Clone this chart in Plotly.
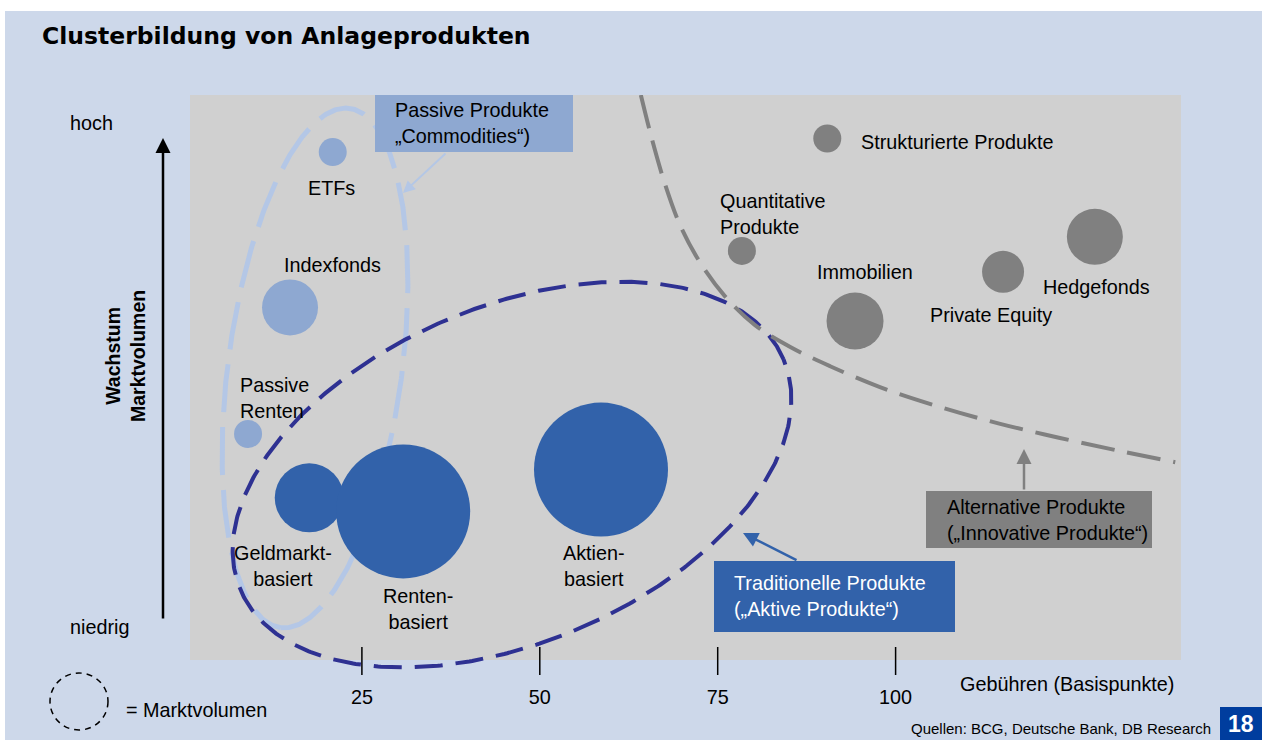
import numpy as np
import plotly.graph_objects as go

# ---------------- data ----------------
passive_names = ["ETFs", "Indexfonds", "Passive Renten"]
passive_labels = ["ETFs", "Indexfonds", "Passive<br>Renten"]
passive_fees = [20.9, 14.9, 9.0]
passive_growth = [89.9, 62.4, 40.0]
passive_volume = [28, 56, 28]

traditional_names = ["Geldmarkt-basiert", "Renten-basiert", "Aktien-basiert"]
traditional_labels = ["Geldmarkt-<br>basiert", "Renten-<br>basiert", "Aktien-<br>basiert"]
traditional_fees = [17.6, 30.8, 58.6]
traditional_growth = [28.7, 26.3, 33.7]
traditional_volume = [69, 134, 134]

alternative_names = ["Strukturierte Produkte", "Quantitative Produkte", "Immobilien",
                     "Private Equity", "Hedgefonds"]
alternative_labels = ["Strukturierte Produkte", "Quantitative<br>Produkte", "Immobilien",
                      "Private Equity", "Hedgefonds"]
alternative_fees = [90.4, 78.4, 94.3, 115.1, 128.0]
alternative_growth = [92.3, 72.4, 60.0, 68.7, 74.9]
alternative_volume = [28, 28, 57, 42, 56]

fee_ticks = [25, 50, 75, 100]
fee_tick_labels = ["25", "50", "75", "100"]

# hand-drawn border of the "alternative products" zone
border_fees = [64.2, 65.8, 67.6, 69.7, 72.5, 76.0, 80.2, 85.2, 90.8, 97.8,
               106.2, 114.7, 123.1, 131.5, 139.3]
border_growth = [100.0, 92.0, 84.2, 77.0, 70.4, 64.4, 59.3, 55.4, 52.0, 48.3,
                 44.8, 41.8, 39.3, 37.0, 35.0]

# ---------------- layout geometry & styles ----------------
W, H = 1262, 740
ML, MR, MT, MB = 190, 81, 95, 57
X_RANGE = [0.843, 140.107]
Y_RANGE = [-4.071, 100.0]

FONT = "Liberation Sans, Arial, Helvetica, sans-serif"
BG = "#cdd8ea"
PLOT_GRAY = "#d0d0d0"
PASSIVE = "#8ea8d1"
PASSIVE_LINE = "#b4c7e6"
TRAD = "#3262aa"
TRAD_LINE = "#2e3192"
ALT = "#808080"
FS = 19.8

PW, PH = W - ML - MR, H - MT - MB
SX = PW / (X_RANGE[1] - X_RANGE[0])
SY = PH / (Y_RANGE[1] - Y_RANGE[0])


def dx(px):
    return X_RANGE[0] + (np.asarray(px, dtype=float) - ML) / SX


def dy(py):
    return Y_RANGE[1] - (np.asarray(py, dtype=float) - MT) / SY


def xp(px):
    return (px - ML) / PW


def yp(py):
    return (H - MB - py) / PH


def ellipse(cx, cy, a, b, ux, uy, n=600):
    t = np.linspace(0, 2 * np.pi, n)
    vx, vy = uy, -ux
    px = cx + a * np.cos(t) * ux + b * np.sin(t) * vx
    py = cy + a * np.cos(t) * uy + b * np.sin(t) * vy
    return dx(px), dy(py)


fig = go.Figure()

# cluster outlines
ex, ey = ellipse(315, 368, 262, 87, -0.132, 0.991)
fig.add_trace(go.Scatter(x=ex, y=ey, mode="lines", hoverinfo="skip",
                         line=dict(color=PASSIVE_LINE, width=5, dash="48px,15px")))
ex, ey = ellipse(512, 474.6, 295, 168, 0.9205, -0.3907)
fig.add_trace(go.Scatter(x=ex, y=ey, mode="lines", hoverinfo="skip",
                         line=dict(color=TRAD_LINE, width=4, dash="28px,13px")))
fig.add_trace(go.Scatter(x=border_fees, y=border_growth, mode="lines", hoverinfo="skip",
                         line=dict(color=ALT, width=4, dash="34px,13px", shape="spline", smoothing=1)))

# bubbles
for names, fees, growth, vol, col in [
    (passive_names, passive_fees, passive_growth, passive_volume, PASSIVE),
    (traditional_names, traditional_fees, traditional_growth, traditional_volume, TRAD),
    (alternative_names, alternative_fees, alternative_growth, alternative_volume, ALT),
]:
    fig.add_trace(go.Scatter(x=fees, y=growth, mode="markers", text=names,
                             marker=dict(size=vol, color=col, opacity=1, line=dict(width=0)),
                             hoverinfo="text"))

# tick marks crossing the bottom edge of the gray area
tx, ty = [], []
for v in fee_ticks:
    tx += [v, v, None]
    ty += [float(dy(647)), float(dy(675)), None]
fig.add_trace(go.Scatter(x=tx, y=ty, mode="lines", hoverinfo="skip",
                         line=dict(color="black", width=1.5)))

annotations = []

# bubble labels (offsets in px)
label_offsets = {
    "ETFs": ("center", -1, -36),
    "Indexfonds": ("center", 42, 42),
    "Passive Renten": ("left", -10, 36.5),
    "Geldmarkt-basiert": ("center", -26.5, -68),
    "Renten-basiert": ("center", 15, -98),
    "Aktien-basiert": ("center", -7, -96.5),
    "Strukturierte Produkte": ("left", 32, -3),
    "Quantitative Produkte": ("left", -24, 36.5),
    "Immobilien": ("center", 10, 49),
    "Private Equity": ("center", -12, -43),
    "Hedgefonds": ("center", 2, -50.5),
}
for names, labels, fees, growth in [
    (passive_names, passive_labels, passive_fees, passive_growth),
    (traditional_names, traditional_labels, traditional_fees, traditional_growth),
    (alternative_names, alternative_labels, alternative_fees, alternative_growth),
]:
    for n, lab, xv, yv in zip(names, labels, fees, growth):
        anc, xs, ys = label_offsets[n]
        annotations.append(dict(x=xv, y=yv, xref="x", yref="y", text=lab, showarrow=False,
                                xanchor=anc, align=anc if anc != "center" else "center",
                                yanchor="middle", xshift=xs, yshift=ys,
                                font=dict(family=FONT, size=FS, color="black")))

shapes = []
# gray plot area
shapes.append(dict(type="rect", xref="paper", yref="y", x0=0, x1=1, y0=0, y1=100,
                   fillcolor=PLOT_GRAY, line=dict(width=0), layer="below"))
# white page strips
shapes.append(dict(type="rect", xref="paper", yref="paper", x0=xp(0), x1=xp(W), y0=yp(11), y1=yp(0),
                   fillcolor="white", line=dict(width=0), layer="above"))
shapes.append(dict(type="rect", xref="paper", yref="paper", x0=xp(0), x1=xp(5), y0=yp(H), y1=yp(0),
                   fillcolor="white", line=dict(width=0), layer="above"))

# callout boxes
boxes = [
    (375, 573, 95, 152, PASSIVE, "Passive Produkte<br>„Commodities“)", 393, 123.5, "black"),
    (714, 955, 561, 632, TRAD, "Traditionelle Produkte<br>(„Aktive Produkte“)", 732, 595.5, "white"),
    (926, 1152, 491, 548, ALT, "Alternative Produkte<br>(„Innovative Produkte“)", 945, 519.5, "black"),
]
for x0, x1, y0, y1, col, txt, tx0, tyc, tcol in boxes:
    shapes.append(dict(type="rect", xref="paper", yref="paper", x0=xp(x0), x1=xp(x1),
                       y0=yp(y1), y1=yp(y0), fillcolor=col, line=dict(width=0), layer="above"))
    annotations.append(dict(x=xp(tx0), y=yp(tyc), xref="paper", yref="paper", text=txt,
                            showarrow=False, xanchor="left", yanchor="middle", align="left",
                            font=dict(family=FONT, size=FS, color=tcol)))

# arrows
arrows = [
    (403, 193, 44, -41, PASSIVE_LINE, 2, 1.2),
    (743, 533, 55, 28, TRAD, 2.5, 1.2),
    (1024, 449, 0, 42, ALT, 2.5, 1.2),
    (163, 138, 0, 482, "black", 2.5, 1.2),
]
for hx, hy, axo, ayo, col, w, s in arrows:
    annotations.append(dict(x=xp(hx), y=yp(hy), xref="paper", yref="paper", text="",
                            showarrow=True, ax=axo, ay=ayo, axref="pixel", ayref="pixel",
                            arrowhead=2, arrowsize=s, arrowwidth=w, arrowcolor=col, standoff=0))

# legend circle
shapes.append(dict(type="circle", xref="paper", yref="paper", x0=xp(50), x1=xp(108),
                   y0=yp(730), y1=yp(673), line=dict(color="black", width=1.5, dash="6px,5px"),
                   fillcolor="rgba(0,0,0,0)", layer="above"))
# page number box
shapes.append(dict(type="rect", xref="paper", yref="paper", x0=xp(1220), x1=xp(1262),
                   y0=yp(740), y1=yp(707), fillcolor="#003d9e", line=dict(width=0), layer="above"))

texts = [
    ("Clusterbildung von Anlageprodukten", 40, 36.5, "left",
     dict(family="DejaVu Sans, Arial Black, sans-serif", size=23.5, color="black", weight="bold"), 0),
    ("hoch", 68, 123, "left", dict(family=FONT, size=FS, color="black"), 0),
    ("niedrig", 68, 627, "left", dict(family=FONT, size=FS, color="black"), 0),
    ("Wachstum<br>Marktvolumen", 125, 356, "center",
     dict(family=FONT, size=19.5, color="black", weight="bold"), -90),
    ("Gebühren (Basispunkte)", 958, 684, "left", dict(family=FONT, size=FS, color="black"), 0),
    ("= Marktvolumen", 124, 710, "left", dict(family=FONT, size=FS, color="black"), 0),
    ("Quellen: BCG, Deutsche Bank, DB Research", 909, 728, "left",
     dict(family=FONT, size=15, color="black"), 0),
    ("18", 1241, 724, "center", dict(family=FONT, size=23, color="white", weight="bold"), 0),
]
for txt, px, py, anc, f, ang in texts:
    annotations.append(dict(x=xp(px), y=yp(py), xref="paper", yref="paper", text=txt,
                            showarrow=False, xanchor=anc, yanchor="middle", font=f,
                            textangle=ang, align="center"))

fig.update_layout(
    width=W, height=H,
    margin=dict(l=ML, r=MR, t=MT, b=MB, pad=0, autoexpand=False),
    paper_bgcolor=BG, plot_bgcolor="rgba(0,0,0,0)",
    showlegend=False,
    xaxis=dict(range=X_RANGE, tickvals=fee_ticks, ticktext=fee_tick_labels, ticks="",
               showgrid=False, zeroline=False, showline=False, fixedrange=True,
               tickfont=dict(family=FONT, size=FS, color="black"), ticklabelstandoff=0),
    yaxis=dict(range=Y_RANGE, visible=False, fixedrange=True),
    shapes=shapes, annotations=annotations,
)

fig.write_html(
    "out.html",
    config={"displayModeBar": False},
    post_script="document.body.style.margin='0';document.body.style.overflow='hidden';",
)
